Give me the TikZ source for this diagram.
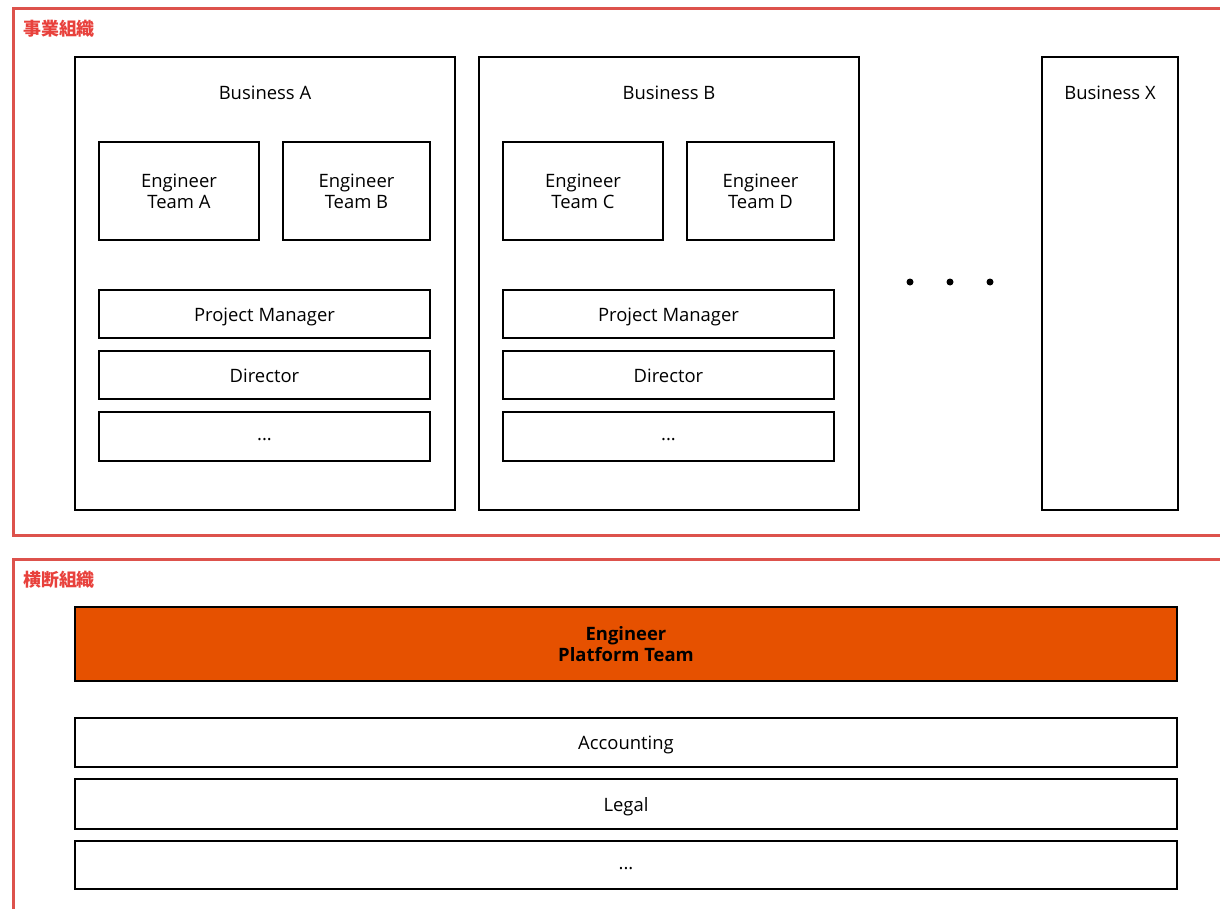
\documentclass[tikz,border=0pt]{standalone}
\usepackage{fontspec}
\setmainfont{Open Sans}
\newfontfamily\jpfont{Noto Sans CJK JP}
\definecolor{frame}{RGB}{221,82,76}
\definecolor{jplabel}{RGB}{232,65,60}
\definecolor{platform}{RGB}{230,81,0}
\begin{document}
\begin{tikzpicture}[x=1bp,y=-1bp,
  box/.style={draw=black,line width=2bp,fill=white,inner sep=0pt,align=center,
    font=\fontsize{18.5}{21}\selectfont},
  bizbox/.style={box},
  rowbox/.style={box,minimum height=49bp,text height=14bp,text depth=0bp},
  etcbox/.style={box,minimum height=49bp,text height=8bp,text depth=0bp},
  platformbox/.style={box,fill=platform,font=\fontsize{18.5}{21}\selectfont\bfseries},
  orgframe/.style={draw=frame,line width=3bp},
  orglabel/.style={anchor=west,text=jplabel,inner sep=0pt,font=\jpfont\bfseries\fontsize{18}{20}\selectfont},
  dot/.style={circle,fill=black,inner sep=0pt,minimum size=7bp},
  bizlabel/.style={anchor=center,yshift=-36.5bp,font=\fontsize{18.5}{21}\selectfont}]
\useasboundingbox (0,0) rectangle (1220,909);
\clip (0,0) rectangle (1220,909);
% organisation frames
\draw[orgframe] (13,8) rectangle (1240,535);
\draw[orgframe] (13,559) rectangle (1240,940);
\node[orglabel] (lblbiz) at (23,29) {事業組織};
\node[orglabel] (lblcross) at (23,580) {横断組織};
% Business A
\node[bizbox,minimum width=380bp,minimum height=453bp,
  label={[bizlabel]north:Business A}] (bizA) at (265,283.5) {};
\node[box,minimum width=160bp,minimum height=98bp] (teamA) at (179,191) {Engineer\\Team A};
\node[box,minimum width=147bp,minimum height=98bp] (teamB) at (356.5,191) {Engineer\\Team B};
\node[rowbox,minimum width=331bp,minimum height=48bp] (pmA) at (264.5,314) {Project Manager};
\node[rowbox,minimum width=331bp,minimum height=48bp] (dirA) at (264.5,375) {Director};
\node[etcbox,minimum width=331bp] (etcA) at (264.5,436.5) {...};
% Business B
\node[bizbox,minimum width=380bp,minimum height=453bp,
  label={[bizlabel]north:Business B}] (bizB) at (669,283.5) {};
\node[box,minimum width=160bp,minimum height=98bp] (teamC) at (583,191) {Engineer\\Team C};
\node[box,minimum width=147bp,minimum height=98bp] (teamD) at (760.5,191) {Engineer\\Team D};
\node[rowbox,minimum width=331bp,minimum height=48bp] (pmB) at (668.5,314) {Project Manager};
\node[rowbox,minimum width=331bp,minimum height=48bp] (dirB) at (668.5,375) {Director};
\node[etcbox,minimum width=331bp] (etcB) at (668.5,436.5) {...};
% dots
\node[dot] (d1) at (910,282) {};
\node[dot] (d2) at (950,282) {};
\node[dot] (d3) at (990,282) {};
% Business X
\node[bizbox,minimum width=136bp,minimum height=453bp,
  label={[bizlabel]north:Business X}] (bizX) at (1110,283.5) {};
% cross-functional
\node[platformbox,minimum width=1102bp,minimum height=74bp] (platform) at (626,644) {Engineer\\Platform Team};
\node[rowbox,minimum width=1102bp] (acc) at (626,742.5) {Accounting};
\node[rowbox,minimum width=1102bp,minimum height=50bp] (legal) at (626,804) {Legal};
\node[etcbox,minimum width=1102bp,minimum height=48bp] (etcC) at (626,865) {...};
\end{tikzpicture}
\end{document}
